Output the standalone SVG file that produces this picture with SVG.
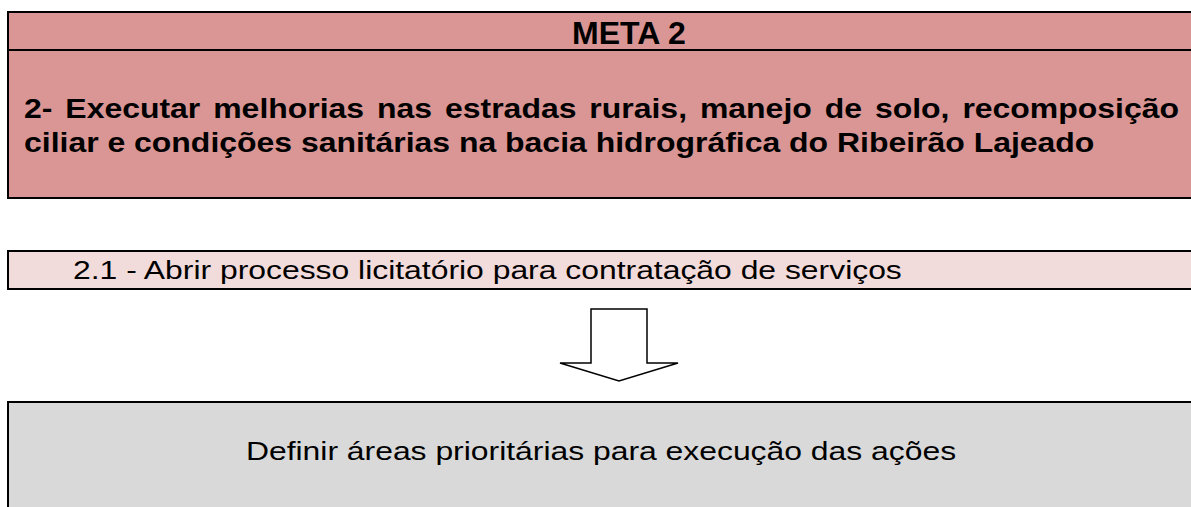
<svg xmlns="http://www.w3.org/2000/svg" width="1191" height="507" viewBox="0 0 1191 507">
<style>
.box{stroke:#000;stroke-width:2}
.b{font-family:"Liberation Sans",Arial,sans-serif;font-weight:bold;fill:#000}
.r{font-family:"Liberation Sans",Arial,sans-serif;fill:#000}
</style>
<rect width="1191" height="507" fill="#fff"/>
<g id="meta">
<rect class="box" x="8" y="12" width="1200" height="186" fill="#d99694"/>
<line x1="8" y1="50" x2="1200" y2="50" stroke="#000" stroke-width="2"/>
<text class="b" x="629" y="43.5" font-size="32" text-anchor="middle">META 2</text>
<text class="b" transform="translate(24,117.5) scale(1.162,1)" x="0" y="0" font-size="27.5" word-spacing="3.5">2- Executar melhorias nas estradas rurais, manejo de solo, recomposição</text>
<text class="b" transform="translate(24,152) scale(1.162,1)" x="0" y="0" font-size="27.5">ciliar e condições sanitárias na bacia hidrográfica do Ribeirão Lajeado</text>
</g>
<g id="acao">
<rect class="box" x="8" y="251" width="1200" height="38" fill="#f2dcdb"/>
<text class="r" transform="translate(73,278.5) scale(1.203,1)" x="0" y="0" font-size="26.5">2.1 - Abrir processo licitatório para contratação de serviços</text>
</g>
<g id="connectors">
<polygon points="591,309 647,309 647,363 678,363 619,381 560,363 591,363" fill="#fff" stroke="#000" stroke-width="1.5"/>
</g>
<g id="definir">
<rect class="box" x="8" y="402" width="1200" height="120" fill="#d9d9d9"/>
<text class="r" transform="translate(601,460) scale(1.203,1)" x="0" y="0" font-size="26.5" text-anchor="middle">Definir áreas prioritárias para execução das ações</text>
</g>
</svg>
